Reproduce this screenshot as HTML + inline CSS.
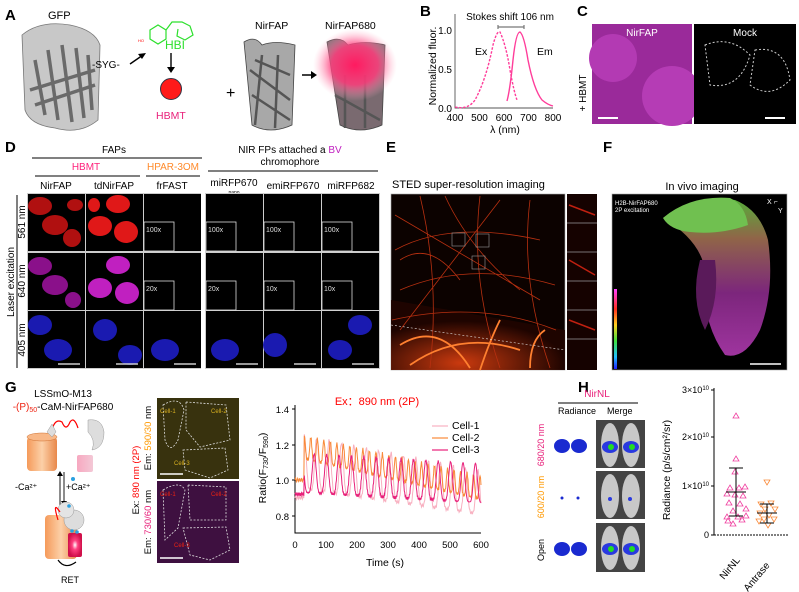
<!DOCTYPE html>
<html><head><meta charset="utf-8"><style>
body{margin:0;background:#fff}
svg{display:block;font-family:"Liberation Sans",Arial,sans-serif}
</style></head><body>
<svg id="s" width="799" height="592" viewBox="0 0 799 592" xmlns="http://www.w3.org/2000/svg">
<defs>
<radialGradient id="glow"><stop offset="0" stop-color="#ff1a60"/><stop offset="0.55" stop-color="#ff3d7c" stop-opacity="0.85"/><stop offset="1" stop-color="#ffb0c8" stop-opacity="0"/></radialGradient>
<linearGradient id="cyl" x1="0" x2="1"><stop offset="0" stop-color="#f59a5a"/><stop offset="0.5" stop-color="#fcd0a8"/><stop offset="1" stop-color="#e8884a"/></linearGradient>
<linearGradient id="cylp" x1="0" x2="1"><stop offset="0" stop-color="#f7a8c0"/><stop offset="1" stop-color="#f3c8d6"/></linearGradient>
<radialGradient id="cylr"><stop offset="0" stop-color="#fff"/><stop offset="0.4" stop-color="#ff4080"/><stop offset="1" stop-color="#d0104a"/></radialGradient>
<radialGradient id="fire" cx="0.4" cy="0.9" r="0.6"><stop offset="0" stop-color="#e04010"/><stop offset="1" stop-color="#200400"/></radialGradient>
<linearGradient id="tis" x1="0" y1="0" x2="0" y2="1"><stop offset="0" stop-color="#60c040"/><stop offset="0.25" stop-color="#a07050"/><stop offset="0.6" stop-color="#8a2a8a"/><stop offset="1" stop-color="#b03ab0"/></linearGradient>
<linearGradient id="cbar" x1="0" y1="0" x2="0" y2="1"><stop offset="0" stop-color="#ff40ff"/><stop offset="0.25" stop-color="#ff3020"/><stop offset="0.45" stop-color="#ffd020"/><stop offset="0.65" stop-color="#40e040"/><stop offset="0.85" stop-color="#20c0ff"/><stop offset="1" stop-color="#2020ff"/></linearGradient>
</defs>
<g font-weight="bold" font-size="15">
<text x="5" y="20">A</text><text x="420" y="16">B</text><text x="577" y="16">C</text>
<text x="5" y="152">D</text><text x="386" y="152">E</text><text x="603" y="152">F</text>
<text x="5" y="392">G</text><text x="578" y="392">H</text></g>

<!-- A -->
<text x="48" y="19" font-size="11">GFP</text>
<path d="M22 35 Q40 20 70 25 Q95 30 100 45 L98 120 Q80 135 55 128 Q30 125 25 110 Z" fill="#c8c8c8" stroke="#777" stroke-width="0.8"/>
<g stroke="#6a6a6a" stroke-width="3.5" fill="none"><path d="M35 60 L45 115 M48 50 L58 120 M62 45 L72 122 M76 48 L84 118 M88 55 L92 110 M30 90 L95 70 M35 105 L95 85"/></g>
<text x="92" y="68" font-size="10">-SYG-</text>
<path d="M130 64 L143 55" stroke="#000" stroke-width="1.4"/><path d="M146 53 l-8 1 l4 5z" fill="#000"/>
<g stroke="#2de02d" fill="none" stroke-width="1.2"><path d="M150 30 l8 -5 l8 5 l0 9 l-8 5 l-8 -5z"/><path d="M166 30 l6 -8 l10 0 l8 4 l3 9 l-8 5 l-8 -4 l1 -7"/></g>
<text x="138" y="42" font-size="4" fill="red">HO</text>
<text x="165" y="49" font-size="12" fill="#2de02d">HBI</text>
<path d="M171 53 L171 68" stroke="#000" stroke-width="1.4"/><path d="M167 67 l8 0 l-4 6z" fill="#000"/>
<circle cx="171" cy="89" r="10.5" fill="#ff1a1a" stroke="#334" stroke-width="1"/>
<text x="156" y="119" font-size="10.5" fill="#e8207a">HBMT</text>
<text x="226" y="98" font-size="16">+</text>
<text x="255" y="29" font-size="10.5">NirFAP</text>
<path d="M244 42 Q255 35 262 45 Q275 40 295 45 L292 125 Q270 135 252 125 Z" fill="#a8a8a8" stroke="#444" stroke-width="0.8"/>
<g stroke="#555" stroke-width="2.5"><path d="M250 70 L290 100 M252 95 L290 120 M255 60 L290 75 M262 55 L255 125 M278 55 L275 128"/></g>
<path d="M302 75 L312 75" stroke="#000" stroke-width="1.5"/><path d="M311 71 l6 4 l-6 4z" fill="#000"/>
<text x="325" y="29" font-size="10.5">NirFAP680</text>
<path d="M327 42 Q340 35 348 45 Q365 40 385 45 L382 125 Q360 135 340 125 Z" fill="#7a6a70" stroke="#444" stroke-width="0.8"/>
<g stroke="#555" stroke-width="2.5"><path d="M335 95 L380 120 M345 75 L345 128 M365 75 L365 128"/></g>
<ellipse cx="355" cy="65" rx="42" ry="36" fill="url(#glow)"/>

<!-- B -->
<text transform="translate(436 66) rotate(-90)" font-size="10.5" text-anchor="middle">Normalized fluor.</text>
<g font-size="10" text-anchor="end"><text x="452" y="34">1.0</text><text x="452" y="73">0.5</text><text x="452" y="112">0.0</text></g>
<path d="M455 14 V108 H553" stroke="#555" fill="none" stroke-width="0.9"/>
<g font-size="10" text-anchor="middle"><text x="455" y="121">400</text><text x="479.5" y="121">500</text><text x="504" y="121">600</text><text x="528.5" y="121">700</text><text x="553" y="121">800</text></g>
<text x="505" y="133" font-size="10.5" text-anchor="middle">λ (nm)</text>
<text x="510" y="20" font-size="10" text-anchor="middle">Stokes shift 106 nm</text>
<path d="M498 27 H524 M498 25v4 M524 25v4" stroke="#777" stroke-width="1.2"/>
<path d="M455 107 Q468 110 475 100 Q486 80 493 45 Q497 30 500 32 Q506 45 510 70 Q514 92 517 100" fill="none" stroke="#ff3d9a" stroke-width="1.4" stroke-dasharray="2.5 1.5"/>
<path d="M507 101 Q510 90 513 60 Q516 32 520 32 Q524 35 528 60 Q534 90 542 100 Q548 105 553 106" fill="none" stroke="#ff3d9a" stroke-width="1.4"/>
<text x="475" y="55" font-size="10.5">Ex</text><text x="537" y="55" font-size="10.5">Em</text>

<!-- C -->
<text transform="translate(586 93) rotate(-90)" font-size="10" text-anchor="middle">+ HBMT</text>
<rect x="592" y="24" width="100" height="100" fill="#9a2a9a"/>
<circle cx="613" cy="58" r="24" fill="#b33ab3"/><circle cx="672" cy="96" r="30" fill="#b53cb5"/>
<rect x="694" y="24" width="102" height="100" fill="#000"/>
<text x="642" y="36" font-size="10" fill="#fff" text-anchor="middle">NirFAP</text>
<text x="745" y="36" font-size="10" fill="#fff" text-anchor="middle">Mock</text>
<path d="M705 45 Q730 35 750 55 Q740 90 710 85 Z M755 50 Q785 45 790 80 Q770 100 750 85Z" fill="none" stroke="#ccc" stroke-dasharray="2 2"/>
<path d="M598 118 H618 M765 118 H785" stroke="#fff" stroke-width="2"/>

<!-- D -->
<text x="114" y="153" font-size="10" text-anchor="middle">FAPs</text>
<path d="M32 158 H202" stroke="#000"/>
<text x="290" y="153" font-size="10" text-anchor="middle">NIR FPs attached a <tspan fill="#c020c0">BV</tspan></text>
<text x="290" y="165" font-size="10" text-anchor="middle">chromophore</text>
<path d="M208 171 H378" stroke="#000"/>
<text x="86" y="170" font-size="10" fill="#ff1f7a" text-anchor="middle">HBMT</text>
<text x="173" y="170" font-size="10" fill="#ff8a2a" text-anchor="middle">HPAR-3OM</text>
<path d="M35 176 H140 M146 176 H200" stroke="#000"/>
<g font-size="10" text-anchor="middle"><text x="56" y="189">NirFAP</text><text x="114" y="189">tdNirFAP</text><text x="172" y="189">frFAST</text><text x="234" y="186">miRFP670</text><text x="293" y="189">emiRFP670</text><text x="351" y="189">miRFP682</text></g>
<text x="234" y="194" font-size="5" text-anchor="middle">nano</text>
<text transform="translate(14 282) rotate(-90)" font-size="10" text-anchor="middle">Laser excitation</text>
<path d="M17 195 V368" stroke="#000"/>
<g font-size="10" text-anchor="middle"><text transform="translate(25 222) rotate(-90)">561 nm</text><text transform="translate(25 281) rotate(-90)">640 nm</text><text transform="translate(25 340) rotate(-90)">405 nm</text></g>
<rect x="27" y="193" width="174" height="176" fill="#ccc"/><rect x="205" y="193" width="175" height="176" fill="#ccc"/>
<g fill="#000">
<rect x="28" y="194" width="57" height="57"/><rect x="86" y="194" width="57" height="57"/><rect x="144" y="194" width="57" height="57"/>
<rect x="206" y="194" width="57" height="57"/><rect x="264" y="194" width="57" height="57"/><rect x="322" y="194" width="57" height="57"/>
<rect x="28" y="253" width="57" height="57"/><rect x="86" y="253" width="57" height="57"/><rect x="144" y="253" width="57" height="57"/>
<rect x="206" y="253" width="57" height="57"/><rect x="264" y="253" width="57" height="57"/><rect x="322" y="253" width="57" height="57"/>
<rect x="28" y="311" width="57" height="57"/><rect x="86" y="311" width="57" height="57"/><rect x="144" y="311" width="57" height="57"/>
<rect x="206" y="311" width="57" height="57"/><rect x="264" y="311" width="57" height="57"/><rect x="322" y="311" width="57" height="57"/>
</g>
<g fill="#b01010"><ellipse cx="40" cy="206" rx="12" ry="9"/><ellipse cx="55" cy="225" rx="13" ry="10"/><ellipse cx="72" cy="238" rx="9" ry="9"/><ellipse cx="75" cy="205" rx="8" ry="6"/></g>
<g fill="#e01818"><ellipse cx="118" cy="204" rx="12" ry="9"/><ellipse cx="100" cy="226" rx="12" ry="10"/><ellipse cx="126" cy="232" rx="12" ry="11"/><ellipse cx="94" cy="205" rx="6" ry="7"/></g>
<g fill="#8a108a"><ellipse cx="40" cy="266" rx="12" ry="9"/><ellipse cx="55" cy="285" rx="13" ry="10"/><ellipse cx="73" cy="300" rx="8" ry="8"/></g>
<g fill="#c020c0"><ellipse cx="118" cy="265" rx="12" ry="9"/><ellipse cx="100" cy="288" rx="12" ry="10"/><ellipse cx="127" cy="293" rx="12" ry="11"/></g>
<g fill="#1a1ab0"><ellipse cx="40" cy="325" rx="12" ry="10"/><ellipse cx="58" cy="350" rx="14" ry="11"/><ellipse cx="105" cy="330" rx="12" ry="11"/><ellipse cx="130" cy="355" rx="12" ry="10"/><ellipse cx="165" cy="350" rx="14" ry="11"/><ellipse cx="225" cy="350" rx="14" ry="11"/><ellipse cx="275" cy="345" rx="12" ry="12"/><ellipse cx="360" cy="325" rx="12" ry="10"/><ellipse cx="340" cy="350" rx="12" ry="10"/></g>
<g fill="none" stroke="#ddd" stroke-width="0.8"><rect x="144" y="222" width="30" height="29"/><rect x="206" y="222" width="30" height="29"/><rect x="264" y="222" width="30" height="29"/><rect x="322" y="222" width="30" height="29"/><rect x="144" y="281" width="30" height="29"/><rect x="206" y="281" width="30" height="29"/><rect x="264" y="281" width="30" height="29"/><rect x="322" y="281" width="30" height="29"/></g>
<g fill="#ddd" font-size="7"><text x="146" y="232">100x</text><text x="208" y="232">100x</text><text x="266" y="232">100x</text><text x="324" y="232">100x</text><text x="146" y="291">20x</text><text x="208" y="291">20x</text><text x="266" y="291">10x</text><text x="324" y="291">10x</text></g>
<g stroke="#ccc" stroke-width="1.5"><path d="M58 364H80M116 364H138M174 364H196M236 364H258M294 364H316M352 364H374"/></g>

<!-- E -->
<text x="392" y="188" font-size="11">STED super-resolution imaging</text>
<rect x="391" y="194" width="174" height="176" fill="#0c0200" stroke="#aaa" stroke-width="0.6"/>
<path d="M391 300 L565 330 L565 370 L391 370Z" fill="url(#fire)" opacity="0.9"/>
<g stroke="#b83010" stroke-width="0.8" fill="none">
<path d="M395 250 Q450 220 540 240 M400 290 Q470 260 555 285 M420 196 Q440 280 430 368 M480 196 Q470 280 500 368 M530 200 Q520 280 550 368 M392 320 Q480 300 556 330 M395 215 L540 300 M500 200 L400 330 M445 196 Q470 250 520 290 M400 260 Q430 240 460 280"/>
</g>
<g stroke="#ff8030" stroke-width="1.8" fill="none"><path d="M410 365 Q460 330 520 350 M400 345 Q440 320 470 368 M480 370 Q490 340 500 320 M530 368 Q530 340 545 330"/></g>
<path d="M391 325 L565 350" stroke="#ddd" stroke-dasharray="2 2" stroke-width="0.6"/>
<g fill="none" stroke="#999" stroke-width="0.6"><rect x="452" y="233" width="13" height="13"/><rect x="476" y="234" width="13" height="13"/><rect x="472" y="256" width="13" height="13"/></g>
<rect x="567" y="194" width="30" height="176" fill="#150200"/>
<g stroke="#999" stroke-width="0.8"><path d="M567 223H597M567 252H597M567 281H597M567 310H597M567 339H597"/></g>
<g stroke="#c02010" stroke-width="1.5"><path d="M569 205 L595 215 M569 260 L595 275 M569 320 L595 330"/></g>

<!-- F -->
<text x="702" y="190" font-size="11" text-anchor="middle">In vivo imaging</text>
<rect x="612" y="194" width="175" height="176" fill="#000" stroke="#aaa" stroke-width="0.6"/>
<path d="M663 218 Q690 195 735 200 Q760 210 768 240 Q775 290 760 330 Q745 360 725 355 Q700 320 705 270 Q700 240 663 218Z" fill="url(#tis)" opacity="0.9"/>
<path d="M663 218 Q690 195 730 198 Q745 205 748 225 Q720 235 690 232 Q670 230 663 218Z" fill="#70c050"/>
<path d="M700 260 Q690 300 705 330 Q720 300 715 260Z" fill="#5a1a5a"/>
<text x="615" y="205" font-size="6" fill="#fff">H2B-NirFAP680</text><text x="615" y="212" font-size="6" fill="#fff">2P excitation</text>
<text x="767" y="204" font-size="7" fill="#fff">X ⌐</text><text x="778" y="213" font-size="7" fill="#fff">Y</text>
<rect x="614" y="289" width="3" height="80" fill="url(#cbar)"/>
<path d="M750 364H781" stroke="#fff" stroke-width="1.5"/>

<!-- G -->
<text x="63" y="397" font-size="10" text-anchor="middle">LSSmO-M13</text>
<text x="63" y="410" font-size="10" text-anchor="middle"><tspan fill="#e21">-(P)<tspan font-size="7" dy="2">50</tspan></tspan><tspan dy="-2">-CaM-NirFAP680</tspan></text>
<path d="M52 430 Q55 418 62 422 Q66 432 70 422 Q74 416 78 428" stroke="red" fill="none" stroke-width="1.2"/>
<rect x="27" y="437" width="30" height="34" rx="4" fill="url(#cyl)"/>
<ellipse cx="42" cy="437" rx="15" ry="4" fill="#f8b888" stroke="#d07030" stroke-width="0.5"/>
<path d="M47 432 L52 424 L56 432 L52 437Z" fill="#ddd" stroke="#999" stroke-width="0.5"/>
<path d="M88 420 Q102 418 104 432 Q104 448 92 450 Q96 440 88 432Z" fill="#ddd" stroke="#999" stroke-width="0.5"/>
<rect x="77" y="455" width="16" height="17" rx="2" fill="url(#cylp)"/>
<path d="M60 505V472M64 472v33" stroke="#000" stroke-width="0.9"/><path d="M57 476l3 -5l3 5z M61 501l3 5l3 -5z" fill="#000"/>
<circle cx="73" cy="479" r="2" fill="#2aa0e0"/>
<text x="15" y="490" font-size="9">-Ca²⁺</text><text x="66" y="490" font-size="9">+Ca²⁺</text>
<rect x="45" y="515" width="32" height="44" rx="4" fill="url(#cyl)"/>
<rect x="68" y="533" width="14" height="24" rx="2" fill="url(#cylr)"/>
<circle cx="74" cy="520" r="10" fill="#ddd" stroke="#999" stroke-width="0.5"/>
<circle cx="66" cy="510" r="8" fill="#e4e4e4" stroke="#999" stroke-width="0.5"/>
<path d="M60 512 Q52 500 58 520" stroke="red" fill="none" stroke-width="1.2"/>
<circle cx="69" cy="506" r="1.8" fill="#2aa0e0"/><circle cx="72" cy="531" r="1.8" fill="#2aa0e0"/><circle cx="77" cy="532" r="1.8" fill="#2aa0e0"/>
<path d="M58 560 Q65 570 76 562" stroke="#000" fill="none" stroke-width="1.2"/>
<text x="70" y="583" font-size="9" text-anchor="middle">RET</text>
<g font-size="9.5"><text transform="translate(139 480) rotate(-90)" text-anchor="middle">Ex: <tspan fill="red">890 nm (2P)</tspan></text>
<text transform="translate(151 438) rotate(-90)" text-anchor="middle">Em: <tspan fill="#f90">590/30</tspan> nm</text>
<text transform="translate(151 522) rotate(-90)" text-anchor="middle">Em: <tspan fill="#e8207a">730/60</tspan> nm</text></g>
<rect x="157" y="398" width="82" height="81" fill="#38320e"/>
<rect x="157" y="481" width="82" height="82" fill="#3e1040"/>
<g fill="none" stroke="#ddd" stroke-dasharray="2 1.5" stroke-width="0.8"><path d="M163 405 Q180 395 184 410 L178 440 Q170 455 165 440Z M186 402 L226 405 L230 440 L200 447 L186 430Z M183 450 L225 448 L228 470 L210 478 L185 470Z M163 490 Q180 480 185 490 L178 528 L165 540Z M188 485 L226 487 L226 520 L190 520Z M183 528 L226 527 L230 550 L210 560 L190 555Z"/></g>
<g font-size="6"><text x="160" y="413" fill="#d8b020">Cell-1</text><text x="211" y="413" fill="#d8b020">Cell-2</text><text x="174" y="465" fill="#d8b020">Cell-3</text><text x="160" y="496" fill="#e21">Cell-1</text><text x="211" y="496" fill="#e21">Cell-2</text><text x="174" y="547" fill="#e21">Cell-3</text></g>
<path d="M160 474H183M160 558H183" stroke="#fff" stroke-width="1.5"/>

<text x="377" y="405" font-size="11" fill="red" text-anchor="middle">Ex：890 nm (2P)</text>
<path d="M295 405V533H481" stroke="#000" fill="none"/>
<g font-size="9.5" text-anchor="end"><text x="289" y="413">1.4</text><text x="289" y="449">1.2</text><text x="289" y="484">1.0</text><text x="289" y="520">0.8</text></g>
<path d="M292 409h3M292 445h3M292 480h3M292 516h3" stroke="#000"/>
<g font-size="9.5" text-anchor="middle"><text x="295" y="548">0</text><text x="326" y="548">100</text><text x="357" y="548">200</text><text x="388" y="548">300</text><text x="419" y="548">400</text><text x="450" y="548">500</text><text x="481" y="548">600</text></g>
<text x="385" y="566" font-size="10.5" text-anchor="middle">Time (s)</text>
<text transform="translate(266 468) rotate(-90)" font-size="10.5" text-anchor="middle">Ratio(F<tspan font-size="7" dy="2">730</tspan><tspan dy="-2">/F</tspan><tspan font-size="7" dy="2">590</tspan><tspan dy="-2">)</tspan></text>
<g id="lines"></g>
<g font-size="10.5"><text x="452" y="429">Cell-1</text><text x="452" y="441">Cell-2</text><text x="452" y="453">Cell-3</text></g>
<path d="M432 426h16" stroke="#f8b0c0" stroke-width="1.2"/><path d="M432 438h16" stroke="#f98a3a" stroke-width="1.2"/><path d="M432 450h16" stroke="#e8207a" stroke-width="1.2"/>

<!-- H -->
<text x="597" y="397" font-size="10" fill="#e8207a" text-anchor="middle">NirNL</text>
<path d="M558 403H638" stroke="#000"/>
<text x="596" y="414" font-size="9" text-anchor="end">Radiance</text><text x="607" y="414" font-size="9">Merge</text>
<g font-size="9" text-anchor="middle"><text transform="translate(544 445) rotate(-90)" fill="#e8207a">680/20 nm</text><text transform="translate(544 497) rotate(-90)" fill="#f90">600/20 nm</text><text transform="translate(544 550) rotate(-90)">Open</text></g>
<g fill="#1a2ad0"><ellipse cx="562" cy="446" rx="8" ry="7"/><ellipse cx="579" cy="446" rx="8" ry="7"/><ellipse cx="562" cy="549" rx="8" ry="7"/><ellipse cx="579" cy="549" rx="8" ry="7"/><circle cx="562" cy="498" r="1.5"/><circle cx="578" cy="498" r="1.5"/></g>
<g fill="#444"><rect x="596" y="420" width="49" height="48"/><rect x="596" y="471" width="49" height="48"/><rect x="596" y="523" width="49" height="49"/></g>
<g fill="#c8c8c8"><ellipse cx="610" cy="445" rx="9" ry="22"/><ellipse cx="631" cy="445" rx="9" ry="22"/><ellipse cx="610" cy="496" rx="9" ry="22"/><ellipse cx="631" cy="496" rx="9" ry="22"/><ellipse cx="610" cy="548" rx="9" ry="22"/><ellipse cx="631" cy="548" rx="9" ry="22"/></g>
<g fill="#2a3ae0"><ellipse cx="610" cy="447" rx="8" ry="6"/><ellipse cx="631" cy="447" rx="8" ry="6"/><ellipse cx="610" cy="549" rx="8" ry="6"/><ellipse cx="631" cy="549" rx="8" ry="6"/><circle cx="610" cy="499" r="2"/><circle cx="630" cy="499" r="2"/></g>
<g fill="#2d2"><circle cx="611" cy="447" r="3"/><circle cx="632" cy="447" r="3"/><circle cx="611" cy="549" r="3"/><circle cx="632" cy="549" r="3"/></g>
<path d="M714 388V535" stroke="#000"/>
<path d="M714 535H788" stroke="#000" stroke-dasharray="2 1"/>
<path d="M711 390h3M711 437h3M711 486h3M711 535h3" stroke="#000"/>
<g font-size="9" text-anchor="end"><text x="709" y="393">3×10<tspan font-size="6" dy="-3">10</tspan></text><text x="709" y="440">2×10<tspan font-size="6" dy="-3">10</tspan></text><text x="709" y="489">1×10<tspan font-size="6" dy="-3">10</tspan></text><text x="709" y="538">0</text></g>
<text transform="translate(670 470) rotate(-90)" font-size="10.5" text-anchor="middle">Radiance (p/s/cm²/sr)</text>
<g fill="none" stroke="#f040a0" stroke-width="0.8"><path d="M736 413l3 5h-6z M736 456l3 5h-6z M735 469l3 5h-6z M730 485l3 5h-6z M739 485l3 5h-6z M745 484l3 5h-6z M727 491l3 5h-6z M735 492l3 5h-6z M743 493l3 5h-6z M729 500l3 5h-6z M740 501l3 5h-6z M733 508l3 5h-6z M746 506l3 5h-6z M727 514l3 5h-6z M738 514l3 5h-6z M733 521l3 5h-6z M746 513l3 5h-6z M728 518l3 5h-6z M742 517l3 5h-6z"/></g>
<g fill="none" stroke="#f98a3a" stroke-width="0.8"><path d="M767 485l3 -5h-6z M761 507l3 -5h-6z M771 506l3 -5h-6z M765 512l3 -5h-6z M775 512l3 -5h-6z M760 516l3 -5h-6z M769 518l3 -5h-6z M764 522l3 -5h-6z M774 522l3 -5h-6z M768 528l3 -5h-6z M759 524l3 -5h-6z"/></g>
<path d="M736 468V516M729 468h14M729 516h14M726 492h20M767 504V523M760 504h14M760 523h14M757 513h20" stroke="#000" stroke-width="1"/>
<g font-size="10"><text transform="translate(724 580) rotate(-50)">NirNL</text><text transform="translate(748 592) rotate(-50)">Antrase</text></g>
</svg>
<script>
(function(){
 var g=document.getElementById('lines');
 function X(t){return 295+t*0.31}
 function Y(v){return 480-(v-1)*177.5}
 function series(f,col){
  var p=[];for(var t=0;t<=600;t+=1.5){p.push(X(t).toFixed(1)+','+Y(f(t)).toFixed(1));}
  var e=document.createElementNS('http://www.w3.org/2000/svg','polyline');
  e.setAttribute('points',p.join(' '));e.setAttribute('fill','none');e.setAttribute('stroke',col);e.setAttribute('stroke-width','1');
  g.appendChild(e);
 }
 function s(t,per){var c=0.5+0.5*Math.cos(2*Math.PI*t/per);return c*c;}
 series(function(t){if(t<30)return 0.9+0.01*Math.sin(t);var d=t-30;return 0.95-d*0.00025+(0.3-d*0.0001)*s(d,40)+0.008*Math.sin(t*3);},'#f8b0c0');
 series(function(t){if(t<30)return 1.0+0.01*Math.sin(t);var d=t-30;return 1.12-d*0.0004+0.13*s(d,21)+0.008*Math.sin(t*2.3);},'#f98a3a');
 series(function(t){if(t<30)return 0.92+0.01*Math.sin(t*1.3);var d=t-30;return 0.93-d*0.0001+0.22*s(d+8,40)+0.008*Math.sin(t*2.1);},'#e8207a');
})();
</script>
</body></html>
